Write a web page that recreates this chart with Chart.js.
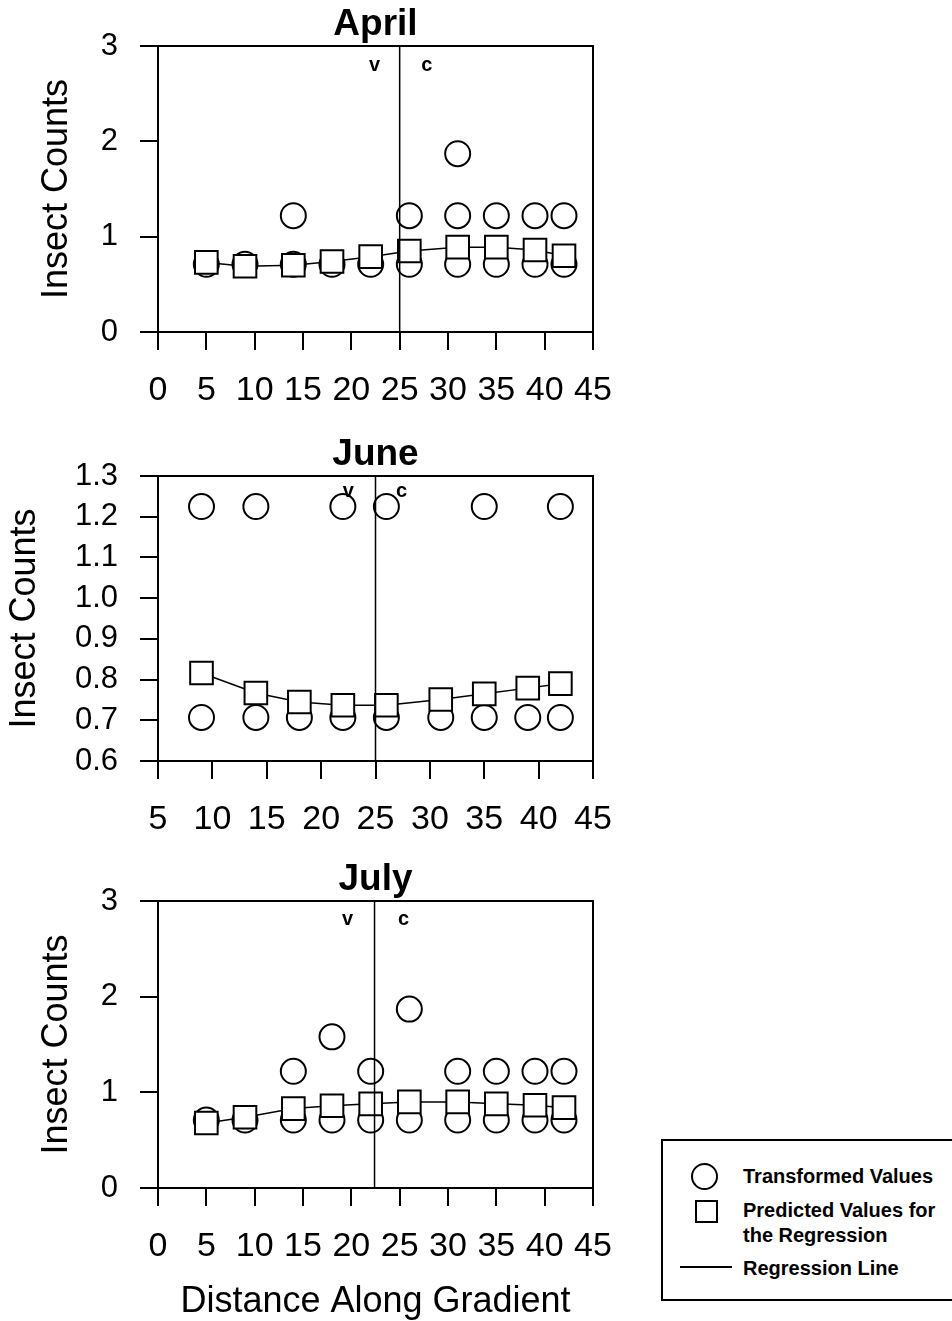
<!DOCTYPE html>
<html>
<head>
<meta charset="utf-8">
<script src="https://cdn.jsdelivr.net/npm/chart.js@4.4.1/dist/chart.umd.min.js"></script>
<style>
body{margin:0;background:#fff;width:952px;height:1321px;position:relative;overflow:hidden;font-family:"Liberation Sans",Arial,sans-serif}
.panel{position:absolute;left:0;width:620px}
.panel canvas{display:block}
.lg{position:absolute;box-sizing:border-box}
.lgt{position:absolute;left:743px;font:bold 20px "Liberation Sans",Arial,sans-serif;line-height:24px;color:#000;white-space:nowrap}
</style>
</head>
<body>
<div class="panel" style="top:0;height:420px"><canvas id="apr" width="620" height="420"></canvas></div>
<div class="panel" style="top:430px;height:430px"><canvas id="jun" width="620" height="430"></canvas></div>
<div class="panel" style="top:855px;height:466px"><canvas id="jul" width="620" height="466"></canvas></div>

<!-- легенда -->
<div class="lg" style="left:661px;top:1139px;width:300px;height:162px;border:2px solid #000;border-right:none"></div>
<div class="lg" style="left:691px;top:1163px;width:27px;height:27px;border:2px solid #000;border-radius:50%"></div>
<div class="lgt" style="top:1164px">Transformed Values</div>
<div class="lg" style="left:695px;top:1200px;width:23px;height:23px;border:2px solid #000"></div>
<div class="lgt" style="top:1198px">Predicted Values for</div>
<div class="lgt" style="top:1223px">the Regression</div>
<div class="lg" style="left:680px;top:1266px;width:52px;height:2px;background:#000"></div>
<div class="lgt" style="top:1256px">Regression Line</div>

<script>
// === April ===
const aprDist=[5,9,14,18,22,26,31,35,39,42];
const aprPred=[0.73,0.69,0.70,0.74,0.79,0.85,0.89,0.89,0.86,0.80];
const aprObsX=[5,9,14,14,18,22,26,26,31,31,31,35,35,39,39,42,42];
const aprObsY=[0.71,0.71,0.71,1.22,0.71,0.71,0.71,1.22,0.71,1.22,1.87,0.71,1.22,0.71,1.22,0.71,1.22];

// === June ===
const junDist=[9,14,18,22,26,31,35,39,42];
const junPred=[0.816,0.767,0.745,0.737,0.737,0.751,0.765,0.779,0.790];
const junObsX=[9,9,14,14,18,22,22,26,26,31,35,35,39,42,42];
const junObsY=[0.707,1.225,0.707,1.225,0.707,0.707,1.225,0.707,1.225,0.707,0.707,1.225,0.707,0.707,1.225];

// === July ===
const julDist=[5,9,14,18,22,26,31,35,39,42];
const julPred=[0.68,0.74,0.83,0.86,0.88,0.90,0.90,0.88,0.865,0.84];
const julObsX=[5,9,14,14,18,18,22,22,26,26,31,31,35,35,39,39,42,42];
const julObsY=[0.71,0.71,0.71,1.22,0.71,1.58,0.71,1.22,0.71,1.87,0.71,1.22,0.71,1.22,0.71,1.22,0.71,1.22];

// === оси и граница v|c ===
const panelTitles=['April','June','July'];
const xMins=[0,5,0], xMaxs=[45,45,45];
const yMins=[0,0.6,0], yMaxs=[3,1.3,3], ySteps=[1,0.1,1];
const boundX=[25,25,22.4];
const vLabelX=[22.4,22.5,19.6], cLabelX=[27.8,27.4,25.4], vcLabelY=[2.8,1.262,2.81];

Chart.defaults.font.family='"Liberation Sans", Arial, sans-serif';
Chart.defaults.color='#000';

// рамка вокруг области графика
const framePlugin={id:'frame',afterDraw(ch){
  const a=ch.chartArea,c=ch.ctx;
  c.save();c.strokeStyle='#000';c.lineWidth=2;
  c.strokeRect(a.left,a.top,a.right-a.left,a.bottom-a.top);
  c.restore();
}};

// вертикальная линия и подписи v / c
const boundPlugin={id:'bound',afterDatasetsDraw(ch,args,o){
  const c=ch.ctx,a=ch.chartArea,sx=ch.scales.x,sy=ch.scales.y;
  const x=sx.getPixelForValue(o.at);
  c.save();
  c.strokeStyle='#000';c.lineWidth=1.5;
  c.beginPath();c.moveTo(x,a.top);c.lineTo(x,a.bottom);c.stroke();
  c.fillStyle='#000';c.font='bold 20px "Liberation Sans", Arial, sans-serif';
  c.textAlign='center';c.textBaseline='middle';
  c.fillText('v',sx.getPixelForValue(o.vx),sy.getPixelForValue(o.ly));
  c.fillText('c',sx.getPixelForValue(o.cx),sy.getPixelForValue(o.ly));
  c.restore();
}};

function makePanel(id,i,dist,pred,obsX,obsY,xAxisH,withTitle){
  const dec=ySteps[i]<1?1:0;
  new Chart(document.getElementById(id),{
    type:'scatter',
    data:{datasets:[
      {type:'line',data:dist.map((d,k)=>({x:d,y:pred[k]})),
       borderColor:'#000',borderWidth:1.5,tension:0,
       pointStyle:'rect',pointRadius:16,pointBackgroundColor:'#fff',
       pointBorderColor:'#000',pointBorderWidth:2,order:1},
      {type:'scatter',data:obsX.map((d,k)=>({x:d,y:obsY[k]})),
       pointStyle:'circle',pointRadius:12.5,pointBackgroundColor:'rgba(0,0,0,0)',
       pointBorderColor:'#000',pointBorderWidth:2,order:2}
    ]},
    options:{
      responsive:false,animation:false,events:[],
      layout:{padding:{left:0,right:27,top:0,bottom:0}},
      plugins:{
        legend:{display:false},tooltip:{enabled:false},
        title:{display:true,text:panelTitles[i],fullSize:false,color:'#000',
          font:{size:37,weight:'bold',lineHeight:1},padding:{top:6,bottom:3}},
        bound:{at:boundX[i],vx:vLabelX[i],cx:cLabelX[i],ly:vcLabelY[i]}
      },
      scales:{
        x:{type:'linear',min:xMins[i],max:xMaxs[i],
          afterFit(s){s.height=xAxisH;s.paddingLeft=0;s.paddingRight=0;},
          ticks:{stepSize:5,autoSkip:false,maxRotation:0,padding:20,color:'#000',font:{size:34}},
          grid:{drawOnChartArea:false,tickLength:18,color:'#000',lineWidth:2},
          border:{color:'#000',width:2},
          title:{display:withTitle,text:'Distance Along Gradient',color:'#000',
            font:{size:36,lineHeight:1},padding:{top:0,bottom:1}}},
        y:{min:yMins[i],max:yMaxs[i],
          afterFit(s){s.width=158;},
          ticks:{stepSize:ySteps[i],autoSkip:false,padding:22,color:'#000',font:{size:31},
            callback:v=>v.toFixed(dec)},
          grid:{drawOnChartArea:false,tickLength:18,color:'#000',lineWidth:2},
          border:{color:'#000',width:2},
          title:{display:true,text:'Insect Counts',color:'#000',
            font:{size:36,lineHeight:1.2},padding:{top:i==1?3:35,bottom:0}}}
      }
    },
    plugins:[framePlugin,boundPlugin]
  });
}

makePanel('apr',0,aprDist,aprPred,aprObsX,aprObsY,88,false);
makePanel('jun',1,junDist,junPred,junObsX,junObsY,99,false);
makePanel('jul',2,julDist,julPred,julObsX,julObsY,133,true);
</script>
</body>
</html>
